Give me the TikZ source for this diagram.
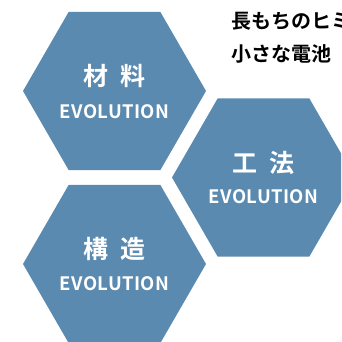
\documentclass[tikz,border=0pt]{standalone}
\usepackage{xcolor}
\usepackage{fontspec}
\usepackage{tikz}
\usetikzlibrary{shapes.geometric}
\newfontfamily\jpfont{Noto Sans CJK JP}[BoldFont={Noto Sans CJK JP Bold}]
\newfontfamily\evofont[LetterSpace=2]{Noto Sans CJK JP}[BoldFont={Noto Sans CJK JP Bold}]
\definecolor{hexblue}{HTML}{5A8AAF}

\begin{document}
\begin{tikzpicture}[x=1pt,y=-1pt,
    hexa/.style={regular polygon, regular polygon sides=6, minimum size=183pt, inner sep=0pt, fill=hexblue},
    kanji/.style={text=white, inner sep=0pt, font=\jpfont\bfseries\fontsize{25}{25}\selectfont},
    evo/.style={text=white, inner sep=0pt, font=\evofont\bfseries\fontsize{18.5}{18.5}\selectfont},
    lead/.style={anchor=west, inner sep=0pt, font=\jpfont\bfseries\fontsize{20}{20}\selectfont}]
    \useasboundingbox (0,0) rectangle (341,342);
    \clip (0,0) rectangle (341,342);

    % Hexagons
    \node[hexa] (zairyo) at (114.5,91) {};
    \node[hexa] (kouhou) at (263.5,177.5) {};
    \node[hexa] (kouzou) at (114.5,264) {};

    % Labels
    \node[kanji] (zairyo-jp) at (114.5,76) {材\hspace{12pt}料};
    \node[evo] (zairyo-en) at (114.5,112) {EVOLUTION};
    \node[kanji] (kouhou-jp) at (263.5,162.5) {工\hspace{12pt}法};
    \node[evo] (kouhou-en) at (263.5,196.5) {EVOLUTION};
    \node[kanji] (kouzou-jp) at (114.5,248.5) {構\hspace{12pt}造};
    \node[evo] (kouzou-en) at (114.5,283.5) {EVOLUTION};

    % Heading, cut off at the right edge
    \node[lead] (lead-a) at (231,21) {長もちのヒミツ};
    \node[lead] (lead-b) at (231,54) {小さな電池};
\end{tikzpicture}
\end{document}
